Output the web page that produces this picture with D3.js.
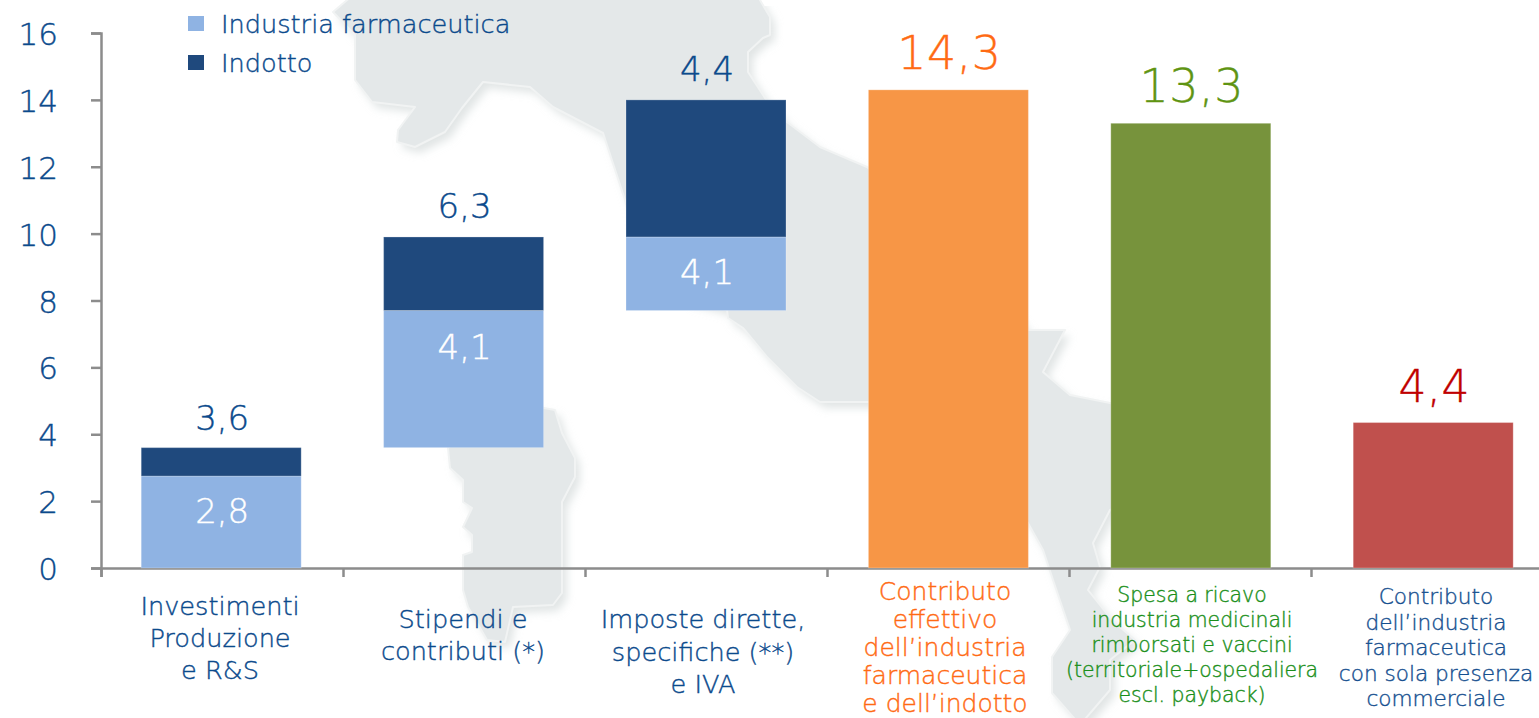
<!DOCTYPE html>
<html><head><meta charset="utf-8">
<script src="https://cdnjs.cloudflare.com/ajax/libs/d3/7.8.5/d3.min.js"></script>
<style>html,body{margin:0;padding:0;background:#fff;overflow:hidden}svg{display:block}text{font-family:"DejaVu Sans",sans-serif;font-weight:200}</style>
</head><body><script>
// ---- data ----
const stackBase = [0, 3.6, 7.7];
const stackIndustria = [2.75, 4.1, 2.2];
const stackIndotto = [0.85, 2.2, 4.1];
const stackInnerLabels = ["2,8","4,1","4,1"];
const stackTopLabels = ["3,6","6,3","4,4"];
const soloValues = [14.3, 13.3, 4.35];
const soloLabels = ["14,3","13,3","4,4"];
const yTicks = [0,2,4,6,8,10,12,14,16];
const legendNames = ["Industria farmaceutica","Indotto"];
const categoryLines = [
 ["Investimenti","Produzione","e R&S"],
 ["Stipendi e","contributi (*)"],
 ["Imposte dirette,","specifiche (**)","e IVA"],
 ["Contributo","effettivo","dell\u2019industria","farmaceutica","e dell\u2019indotto"],
 ["Spesa a ricavo","industria medicinali","rimborsati e vaccini","(territoriale+ospedaliera","escl. payback)"],
 ["Contributo","dell\u2019industria","farmaceutica","con sola presenza","commerciale"]
];
// ---- decorative backdrop: outline of Italy, in page pixels ----
const italyMainland = [[353,-5],[333,12],[355,35],[355,80],[372,102],[415,107],[398,130],[397,142],[415,147],[445,132],[462,108],[483,82],[530,87],[553,107],[603,133],[625,200],[640,260],[690,300],[727,310],[728,318],[743,328],[767,357],[797,387],[820,402],[900,402],[960,450],[1028,523],[1043,550],[1053,580],[1070,630],[1052,657],[1052,693],[1080,725],[1110,690],[1110,660],[1135,640],[1112,620],[1088,590],[1100,567],[1093,543],[1110,510],[1180,480],[1180,420],[1110,403],[1070,395],[1043,372],[1065,330],[1028,330],[960,240],[867,167],[820,147],[787,122],[765,98],[748,72],[748,52],[763,38],[770,35],[770,17],[757,-5]];
const sardinia = [[448,448],[450,468],[463,480],[463,502],[472,508],[463,527],[472,535],[472,552],[463,555],[463,590],[468,607],[487,640],[505,642],[513,607],[553,605],[562,593],[562,502],[575,477],[575,458],[562,433],[555,410],[500,400]];

// ---- layout ----
const W=1539,H=718;
const x=d3.scaleBand().domain(d3.range(6)).range([100,1554.4]).paddingInner(0.34).paddingOuter(0.17);
const edge=d3.scaleLinear().domain([0,6]).range([101,1553]);
const y=d3.scaleLinear().domain([0,16]).range([568,33]);
const colors={light:"#8FB3E3",dark:"#1F497D",solo:["#F79646","#77933C","#C0504D"],text:"#0B4A8C",soloText:["#FF6A13","#5F9412","#C00000"],grey:"#8C8C8C"};
const svg=d3.select("body").append("svg").attr("width",W).attr("height",H);

// map
const defs=svg.append("defs");
defs.append("filter").attr("id","blur").attr("filterUnits","userSpaceOnUse").attr("x",0).attr("y",0).attr("width",W).attr("height",H)
 .append("feGaussianBlur").attr("stdDeviation",4);
const line=d3.line();
const shapes=[italyMainland,sardinia];
svg.append("g").attr("filter","url(#blur)").attr("transform","translate(5,6)").selectAll("path").data(shapes).join("path")
 .attr("d",d=>line(d)+"Z").attr("fill","#CDD4D4").attr("opacity",0.6);
svg.append("g").selectAll("path").data(shapes).join("path")
 .attr("d",d=>line(d)+"Z").attr("fill","#E4E8E9").attr("stroke","#F1F3F3").attr("stroke-width",2).attr("stroke-linejoin","round");

// axes
const yAxis=svg.append("g").attr("transform","translate(101,0)").call(d3.axisLeft(y).tickValues(yTicks).tickSize(10).tickFormat(""));
const xAxis=svg.append("g").attr("transform","translate(0,568)").call(d3.axisBottom(edge).tickValues(d3.range(7)).tickSize(9).tickFormat(""));
[yAxis,xAxis].forEach(a=>{a.selectAll("path").attr("stroke",colors.grey).attr("stroke-width",2.5);a.selectAll("line").attr("stroke",colors.grey).attr("stroke-width",2.5);});
svg.selectAll("text.yt").data(yTicks).join("text").attr("class","yt").attr("x",58).attr("y",d=>y(d)+12).attr("text-anchor","end").attr("font-size",31).attr("fill",colors.text).text(d=>d);

// stacked bars
const bw=x.bandwidth();
function rect(g,i,y0,y1,c){g.append("rect").attr("x",x(i)).attr("width",bw).attr("y",y(y1)).attr("height",y(y0)-y(y1)).attr("fill",c).attr("stroke","#fff").attr("stroke-opacity",0.25).attr("stroke-width",1);}
const bars=svg.append("g");
const innerShift=[1,-20,10];
const topShift=[-18,-19,-19];
stackBase.forEach((b,i)=>{
  rect(bars,i,b,b+stackIndustria[i],colors.light);
  rect(bars,i,b+stackIndustria[i],b+stackIndustria[i]+stackIndotto[i],colors.dark);
  const mid=x(i)+bw/2;
  svg.append("text").attr("x",mid+1).attr("y",y(b+stackIndustria[i]/2)+innerShift[i]).attr("text-anchor","middle").attr("font-size",34).attr("fill","#fff").text(stackInnerLabels[i]);
  svg.append("text").attr("x",mid+1).attr("y",y(b+stackIndustria[i]+stackIndotto[i])+topShift[i]).attr("text-anchor","middle").attr("font-size",34).attr("fill",colors.text).text(stackTopLabels[i]);
});
soloValues.forEach((v,k)=>{
  const i=k+3,mid=x(i)+bw/2;
  rect(bars,i,0,v,colors.solo[k]);
  svg.append("text").attr("x",mid+1).attr("y",y(v)-21).attr("text-anchor","middle").attr("font-size",k==2?44:46).attr("letter-spacing",0.5).attr("fill",colors.soloText[k]).text(soloLabels[k]);
});

// category labels
const labelStyle=[
 {cx:220,top:615,lh:32,fs:25.6,c:colors.text},
 {cx:463,top:628,lh:32,fs:25.6,c:colors.text},
 {cx:703,top:628,lh:32.5,fs:25.6,c:colors.text},
 {cx:945,top:600,lh:28,fs:25,c:"#FF6A13"},
 {cx:1192,top:602,lh:25,fs:20.4,c:"#1A8F1A"},
 {cx:1436,top:604,lh:25.5,fs:21.6,c:"#154F8F"}];
categoryLines.forEach((ls,i)=>{const s=labelStyle[i];
  svg.selectAll("text.c"+i).data(ls).join("text").attr("class","c"+i).attr("x",s.cx).attr("y",(d,j)=>s.top+j*s.lh).attr("text-anchor","middle").attr("font-size",s.fs).attr("fill",s.c).text(d=>d);
});

// legend
const legendY=d3.scalePoint().domain(legendNames).range([24,63]);
const lg=svg.selectAll("g.lg").data(legendNames).join("g").attr("class","lg").attr("transform",d=>`translate(188,${legendY(d)})`);
lg.append("rect").attr("y",-8).attr("width",16).attr("height",15).attr("fill",(d,i)=>i?colors.dark:colors.light);
lg.append("text").attr("x",33).attr("y",9).attr("font-size",25.6).attr("fill",colors.text).text(d=>d);

// slightly heavier strokes than the extra-light face
svg.selectAll("text").attr("stroke",function(){return this.getAttribute("fill")}).attr("stroke-width",0.4);
</script></body></html>
